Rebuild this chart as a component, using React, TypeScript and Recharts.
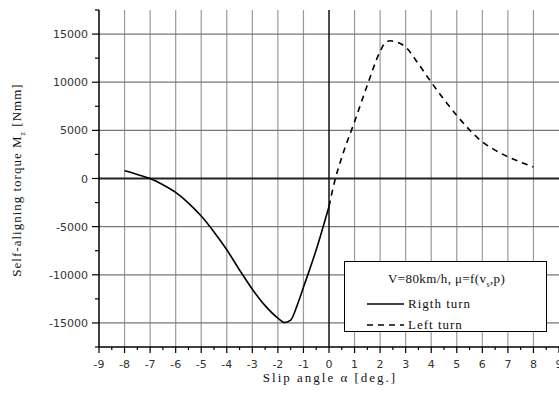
import { Line, LineChart, ReferenceLine, XAxis, YAxis } from "recharts";

// slip angle [deg] and self-aligning torque [Nmm], V = 80 km/h
const rightAlpha = [-8, -7.5, -7, -6.5, -6, -5.5, -5, -4.5, -4, -3.5, -3, -2.5, -2, -1.75, -1.5, -1.25, -1, -0.5, 0];
const rightMz = [800, 420, 0, -650, -1450, -2550, -3900, -5550, -7400, -9500, -11500, -13200, -14500, -14950, -14700, -13200, -11300, -7400, -2900];

const leftAlpha = [0, 0.25, 0.5, 1, 1.5, 2, 2.2, 2.4, 2.6, 3, 3.5, 4, 4.5, 5, 5.5, 6, 6.5, 7, 7.5, 8];
const leftMz = [-2900, 0, 2200, 5900, 9700, 13200, 14100, 14300, 14200, 13650, 11900, 10000, 8200, 6550, 5050, 3800, 2950, 2250, 1700, 1200];

const xMajor = [-9, -8, -7, -6, -5, -4, -3, -2, -1, 0, 1, 2, 3, 4, 5, 6, 7, 8, 9];
const xTicks = [-9, -8.5, -8, -7.5, -7, -6.5, -6, -5.5, -5, -4.5, -4, -3.5, -3, -2.5, -2, -1.5, -1, -0.5, 0,
  0.5, 1, 1.5, 2, 2.5, 3, 3.5, 4, 4.5, 5, 5.5, 6, 6.5, 7, 7.5, 8, 8.5, 9];
const yTicks = [-17500, -15000, -12500, -10000, -7500, -5000, -2500, 0, 2500, 5000, 7500, 10000, 12500, 15000, 17500];
const yLabelled = [-15000, -10000, -5000, 0, 5000, 10000, 15000];
const xGrid = [-8, -7, -6, -5, -4, -3, -2, -1, 1, 2, 3, 4, 5, 6, 7, 8];
const yGrid = [-15000, -10000, -5000, 5000, 10000, 15000];

const rightData = rightAlpha.map((x, i) => ({ x, mz: rightMz[i] }));
const leftData = leftAlpha.map((x, i) => ({ x, mz: leftMz[i] }));

const tickFont = { fontFamily: "DejaVu Sans", fontSize: 11, fill: "#333" };
const titleFont = "Liberation Serif";

function XTick(props: any) {
  const { x, y, payload } = props;
  const major = xMajor.includes(payload.value);
  return (
    <g>
      <line x1={x} x2={x} y1={y} y2={y + (major ? 6 : 3)} stroke="#000" strokeWidth={1.2} />
      {major && (
        <text x={x} y={y + 21} textAnchor="middle" {...tickFont}>
          {payload.value}
        </text>
      )}
    </g>
  );
}

function YTick(props: any) {
  const { x, y, payload } = props;
  const major = yLabelled.includes(payload.value);
  return (
    <g>
      <line x1={x} x2={x - (major ? 7 : 4)} y1={y} y2={y} stroke="#000" strokeWidth={1.2} />
      {major && (
        <text x={x - 11} y={y + 4} textAnchor="end" {...tickFont}>
          {payload.value}
        </text>
      )}
    </g>
  );
}

// axis titles, placed in the left and bottom margins
function AxisTitles() {
  const cx = 21;
  const cy = 180;
  return (
    <g fontFamily={titleFont} fontSize={13} fill="#111">
      <text x={330} y={382} textAnchor="middle" letterSpacing={2}>
        Slip angle α [deg.]
      </text>
      <text x={cx} y={cy} transform={`rotate(-90, ${cx}, ${cy})`} textAnchor="middle" letterSpacing={1}>
        Self-aligning torque M
        <tspan fontSize={8} dy={4}>z</tspan>
        <tspan dy={-4}> [Nmm]</tspan>
      </text>
    </g>
  );
}

export default function App() {
  return (
    <div style={{ position: "absolute", left: 0, top: 0, width: 559, height: 398, background: "#fff" }}>
      <LineChart width={559} height={398} margin={{ top: 10, right: 0, left: 0, bottom: 0 }}>
        <XAxis
          type="number"
          dataKey="x"
          domain={[-9, 9]}
          ticks={xTicks}
          interval={0}
          tickLine={false}
          tickSize={0}
          tickMargin={0}
          tick={<XTick />}
          height={51}
          axisLine={{ stroke: "#000", strokeWidth: 1.5 }}
          allowDataOverflow
        />
        <YAxis
          type="number"
          domain={[-17500, 17500]}
          ticks={yTicks}
          interval={0}
          tickLine={false}
          tickSize={0}
          tickMargin={0}
          tick={<YTick />}
          width={99}
          axisLine={{ stroke: "#000", strokeWidth: 1.5 }}
          allowDataOverflow
        />
        {xGrid.map((v) => (
          <ReferenceLine key={`gx${v}`} x={v} stroke="#9a9a9a" strokeWidth={1.2} />
        ))}
        {yGrid.map((v) => (
          <ReferenceLine key={`gy${v}`} y={v} stroke="#777" strokeWidth={1.2} />
        ))}
        <ReferenceLine y={0} stroke="#222" strokeWidth={2} />
        <ReferenceLine x={0} stroke="#111" strokeWidth={1.5} />
        <Line data={rightData} dataKey="mz" type="monotone" stroke="#000" strokeWidth={1.6} dot={false} isAnimationActive={false} />
        <Line data={leftData} dataKey="mz" type="monotone" stroke="#000" strokeWidth={1.6} strokeDasharray="6 5" dot={false} isAnimationActive={false} />
      </LineChart>
      <svg style={{ position: "absolute", left: 0, top: 0, pointerEvents: "none" }} width={559} height={398}>
        <AxisTitles />
      </svg>
      <div
        style={{
          position: "absolute",
          left: 344,
          top: 261,
          width: 203,
          height: 71,
          boxSizing: "border-box",
          border: "1px solid #000",
          background: "#fff",
          fontFamily: titleFont,
          fontSize: 13,
          color: "#111",
        }}
      >
        <div style={{ position: "absolute", left: 43, top: 9, whiteSpace: "nowrap", letterSpacing: 0.4 }}>
          V=80km/h, μ=f(v<sub style={{ fontSize: 8 }}>s</sub>,p)
        </div>
        <svg style={{ position: "absolute", left: 21, top: 36 }} width={40} height={30}>
          <line x1={1} x2={38} y1={6} y2={6} stroke="#000" strokeWidth={1.6} />
          <line x1={1} x2={38} y1={27} y2={27} stroke="#000" strokeWidth={1.6} strokeDasharray="6 5" />
        </svg>
        <div style={{ position: "absolute", left: 63, top: 34, whiteSpace: "nowrap", letterSpacing: 1 }}>Rigth turn</div>
        <div style={{ position: "absolute", left: 63, top: 55, whiteSpace: "nowrap", letterSpacing: 1 }}>Left turn</div>
      </div>
    </div>
  );
}
